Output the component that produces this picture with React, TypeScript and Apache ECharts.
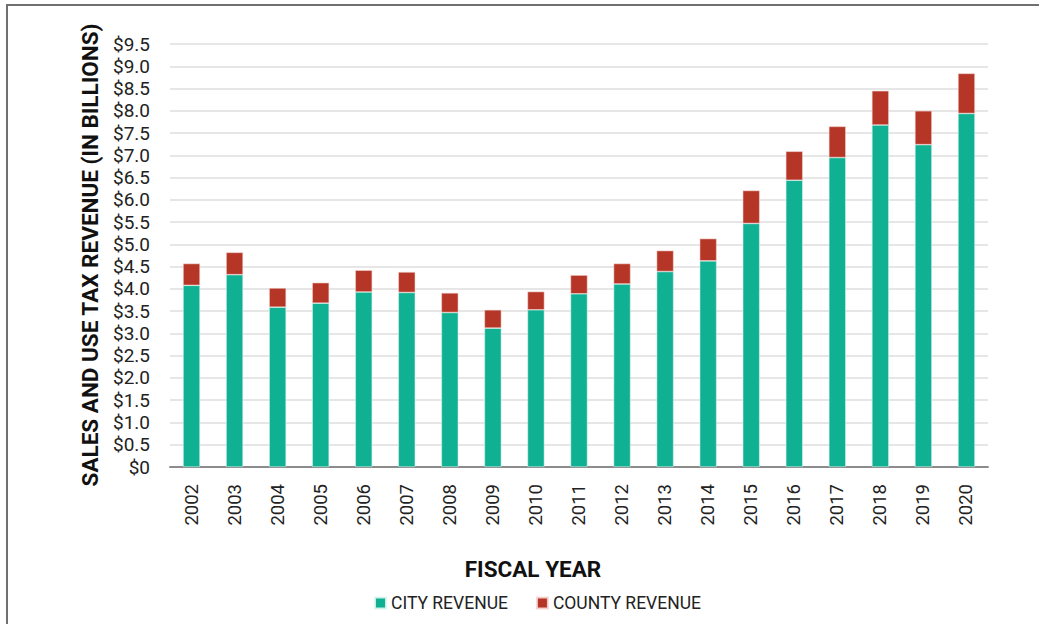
import React, { useEffect, useRef } from "react";
import * as echarts from "echarts";

const years = ["2002","2003","2004","2005","2006","2007","2008","2009","2010","2011","2012","2013","2014","2015","2016","2017","2018","2019","2020"];
const cityRevenue = [4.08,4.32,3.59,3.68,3.93,3.92,3.47,3.12,3.53,3.89,4.11,4.39,4.63,5.47,6.44,6.95,7.68,7.24,7.94];
const countyRevenue = [0.49,0.50,0.43,0.46,0.49,0.46,0.44,0.41,0.41,0.42,0.46,0.47,0.50,0.74,0.65,0.70,0.77,0.76,0.90];
const yTicksMax = 9.5;
const yTickStep = 0.5;

const FONT = "Roboto, 'Noto Sans', Arial, sans-serif";

export default function App() {
  const ref = useRef<HTMLDivElement>(null);
  useEffect(() => {
    if (!ref.current) return;
    const chart = echarts.init(ref.current, null, { renderer: "svg" });
    chart.setOption({
      animation: false,
      backgroundColor: "#ffffff",
      textStyle: { fontFamily: FONT },
      grid: { left: 170, right: 51, top: 44, bottom: 157, containLabel: false },
      legend: {
        left: 369,
        top: 589,
        icon: "rect",
        itemWidth: 11,
        itemHeight: 11,
        itemGap: 28,
        textStyle: { fontSize: 17.5, color: "#222", fontFamily: FONT },
        data: ["CITY REVENUE", "COUNTY REVENUE"],
      },
      xAxis: {
        type: "category",
        data: years,
        axisLine: { lineStyle: { color: "#8c8c8c", width: 2 } },
        axisTick: { show: false },
        axisLabel: { rotate: 90, fontSize: 18.5, color: "#222", margin: 17, fontFamily: FONT },
      },
      yAxis: {
        type: "value",
        min: 0,
        max: yTicksMax,
        interval: yTickStep,
        axisLine: { show: false },
        axisTick: { show: false },
        splitLine: { lineStyle: { color: "#dedede", width: 1.5 } },
        axisLabel: {
          fontSize: 19,
          color: "#222",
          margin: 20,
          fontFamily: FONT,
          formatter: (v: number) => (v === 0 ? "$0" : "$" + v.toFixed(1)),
        },
      },
      series: [
        {
          name: "CITY REVENUE",
          type: "bar",
          stack: "total",
          data: cityRevenue,
          barWidth: 17,
          itemStyle: { color: "#10B193", borderColor: "rgba(220,245,240,0.9)", borderWidth: 0.6 },
        },
        {
          name: "COUNTY REVENUE",
          type: "bar",
          stack: "total",
          data: countyRevenue,
          barWidth: 17,
          itemStyle: { color: "#B53626", borderColor: "rgba(245,215,212,0.9)", borderWidth: 0.6 },
        },
      ],
      graphic: [
        {
          type: "rect",
          shape: { x: 7, y: 5, width: 1200, height: 800 },
          style: { fill: "none", stroke: "#707070", lineWidth: 2 },
          silent: true,
        },
        {
          type: "text",
          x: 90,
          y: 255,
          rotation: Math.PI / 2,
          style: {
            text: "SALES AND USE TAX REVENUE (IN BILLIONS)",
            fontSize: 22.5,
            fontWeight: "bold",
            fontFamily: FONT,
            fill: "#111",
            align: "center",
            verticalAlign: "middle",
          },
        },
        {
          type: "text",
          x: 533,
          y: 569,
          style: {
            text: "FISCAL YEAR",
            fontSize: 22.5,
            fontWeight: "bold",
            fontFamily: FONT,
            fill: "#111",
            align: "center",
            verticalAlign: "middle",
          },
        },
      ],
    });
    return () => chart.dispose();
  }, []);
  return (
    <div
      ref={ref}
      style={{ position: "fixed", left: 0, top: 0, width: 1039, height: 624 }}
    />
  );
}
